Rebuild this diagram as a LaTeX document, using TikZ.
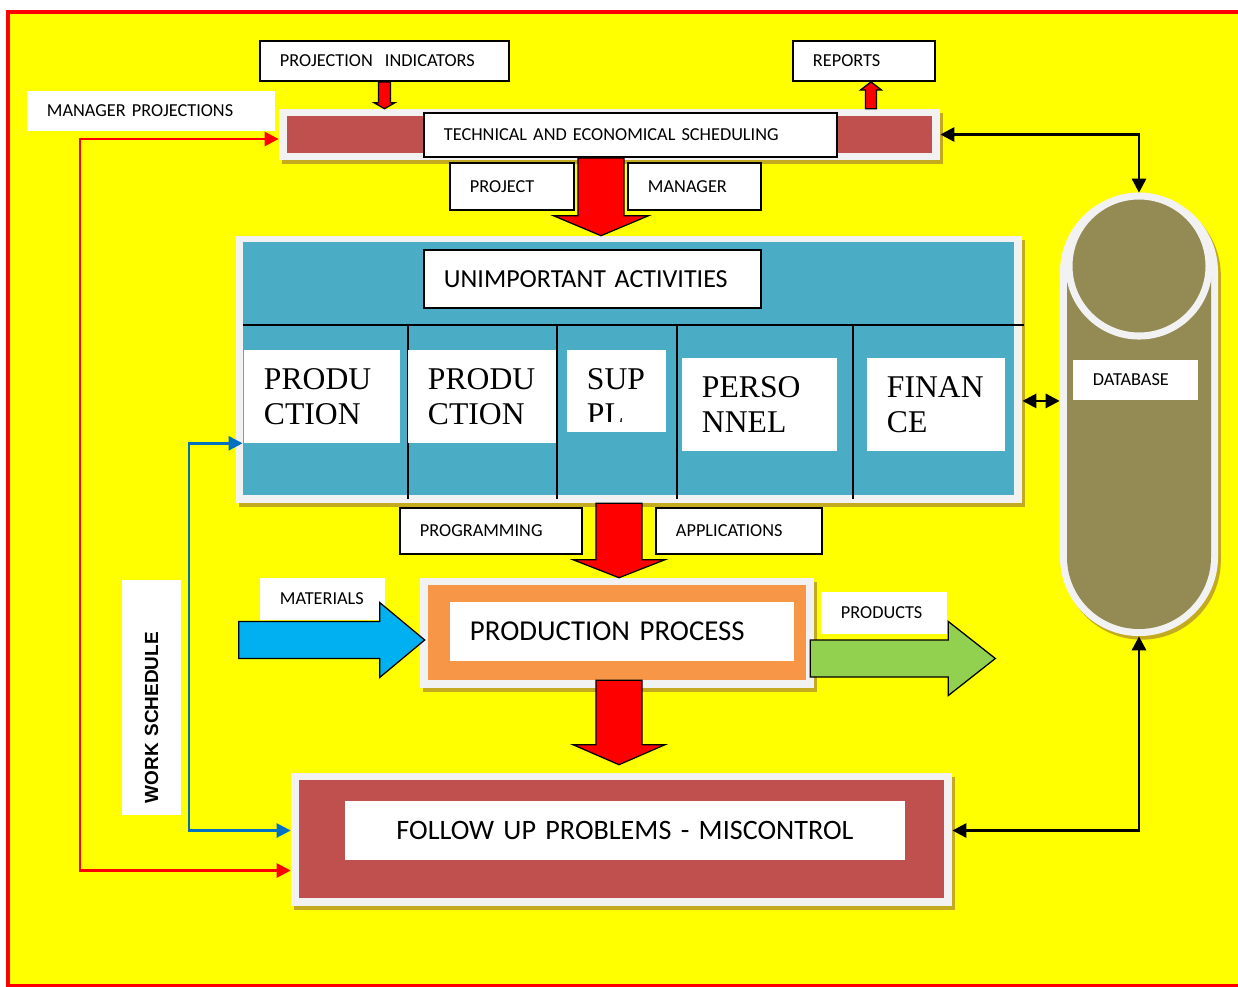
\documentclass[tikz,border=0pt]{standalone}
\usepackage{fontspec}
\setmainfont{Liberation Serif}
\newfontfamily\calibri{Carlito}
\newfontfamily\arialfont{Liberation Sans}
\usetikzlibrary{positioning, arrows.meta, calc, shadows}
\definecolor{pageyellow}{RGB}{255,255,0}
\definecolor{framered}{RGB}{255,0,0}
\definecolor{framegray}{RGB}{242,242,242}
\definecolor{brickred}{RGB}{192,80,77}
\definecolor{panelblue}{RGB}{75,172,198}
\definecolor{procorange}{RGB}{247,150,70}
\definecolor{dbolive}{RGB}{148,138,84}
\definecolor{matblue}{RGB}{0,176,240}
\definecolor{prodgreen}{RGB}{146,208,80}
\definecolor{lineblue}{RGB}{0,112,192}
\definecolor{shadowolive}{RGB}{196,170,30}

% block arrow: [style]{from}{tip}{half shaft}{half head}{head length}
\newcommand{\fatarrow}[6][]{%
  \coordinate (fa-h) at ($(#3)!#6!(#2)$);
  \filldraw[line width=0.9pt, #1] ($(#2)!#4!90:(#3)$) -- ($(fa-h)!#4!90:(#3)$) -- ($(fa-h)!#5!90:(#3)$) -- (#3)
    -- ($(fa-h)!#5!-90:(#3)$) -- ($(fa-h)!#4!-90:(#3)$) -- ($(#2)!#4!-90:(#3)$) -- cycle;}

\begin{document}
\begin{tikzpicture}[
        x=0.025cm, y=-0.025cm,
        textbox/.style={draw=black, line width=1.3pt, fill=white, align=left, inner xsep=0.5cm, inner ysep=0pt, font=\calibri\fontsize{13}{15}\selectfont},
        notebox/.style={textbox, draw=none},
        bigcell/.style={fill=white, align=left, inner xsep=0.5cm, inner ysep=0pt, minimum height=2.325cm, font=\fontsize{22.5}{25}\selectfont},
        framebox/.style={fill=framegray, inner sep=0pt, drop shadow={shadow xshift=0.07cm, shadow yshift=-0.09cm, fill=shadowolive, opacity=1}},
        loopline/.style={line width=2pt, {Triangle[length=10pt,width=10pt]}-{Triangle[length=10pt,width=10pt]}}
    ]
        \useasboundingbox (0,0) rectangle (1238,987);
        \fill[white] (0,0) rectangle (1238,987);

        % Outer frame
        \draw[framered, line width=2.4pt, fill=pageyellow] (8,12) rectangle (1260,986);

        % Scheduling bar
        \node[notebox, text width=5.2cm, minimum height=1cm] (mgrproj) at (151,111) {MANAGER PROJECTIONS};
        \node[textbox, text width=5.225cm, minimum height=1cm] (projind) at (384.5,61) {PROJECTION~ INDICATORS};
        \node[textbox, text width=2.55cm, minimum height=1cm] (reports) at (864,61) {REPORTS};
        \node[framebox, minimum width=16.525cm, minimum height=1.275cm] (techbar) at (609.5,134.5) {};
        \node[fill=brickred, minimum width=16.1cm, minimum height=0.9cm, inner sep=0pt] (techbarin) at (techbar) {};
        \node[textbox, text width=9.325cm, minimum height=1.1cm] (techsched) at (630.5,135) {TECHNICAL AND ECONOMICAL SCHEDULING};
        \node[textbox, text width=2.1cm, minimum height=1.175cm] (project) at (512,186.5) {PROJECT};
        \node[textbox, text width=2.325cm, minimum height=1.175cm] (manager) at (694.5,186.5) {MANAGER};

        % Activities panel
        \node[framebox, minimum width=19.65cm, minimum height=6.675cm] (panel) at (629,369.5) {};
        \node[fill=panelblue, minimum width=19.275cm, minimum height=6.325cm, inner sep=0pt] (panelin) at (628.5,368.5) {};
        \draw[line width=1.2pt] (panelin.west |- 0,325) -- (1024,325);
        \foreach \x in {408,557,677,853}
            \draw[line width=1.2pt] (\x,325) -- (\x,499);
        \node[textbox, text width=7.425cm, minimum height=1.45cm, font=\calibri\fontsize{18.5}{22}\selectfont] (unimp) at (592.5,279) {UNIMPORTANT ACTIVITIES};
        \node[bigcell, text width=2.9cm] (prod1) at (322,396.5) {PRODU\\CTION};
        \node[bigcell, text width=2.7cm] (prod2) at (482,396.5) {PRODU\\CTION};
        \node[fill=white, minimum width=2.475cm, minimum height=2.05cm, inner sep=0pt] (supply) at (616.5,391) {};
        \begin{scope}
            \clip (supply.north west) rectangle ($(supply.south east)+(0,-11)$);
            \node[bigcell, text width=1.475cm] (supplytext) at (616.5,396.5) {SUP\\PL};
        \end{scope}
        \node[bigcell, text width=2.875cm] (personnel) at (759.5,404.5) {PERSO\\NNEL};
        \node[bigcell, text width=2.45cm] (finance) at (936,404.5) {FINAN\\CE};

        % Database
        \node[framebox, rounded corners=1.975cm, minimum width=3.95cm, minimum height=11.075cm] (db) at (1139,414.5) {};
        \fill[dbolive, rounded corners=1.8cm] (1067,200) rectangle (1211,629);
        \draw[framegray, line width=5pt, fill=dbolive] (1139,266) circle (1.75cm);
        \node[notebox, text width=2.125cm, minimum height=1cm] (dblabel) at (1135.5,380) {DATABASE};

        % Production process
        \node[textbox, text width=3.55cm, minimum height=1.15cm] (programming) at (491,531) {PROGRAMMING};
        \node[textbox, text width=3.15cm, minimum height=1.15cm] (applications) at (739,531) {APPLICATIONS};
        \node[framebox, minimum width=9.85cm, minimum height=2.75cm] (procproc) at (617,633) {};
        \node[fill=procorange, minimum width=9.45cm, minimum height=2.375cm, inner sep=0pt] (procin) at (617,632.5) {};
        \node[notebox, text width=7.6cm, minimum height=1.475cm, font=\calibri\fontsize{20.5}{24}\selectfont] (proctext) at (622,631.5) {PRODUCTION PROCESS};
        \node[notebox, text width=2.125cm, minimum height=1.05cm] (materials) at (322.5,599) {MATERIALS};
        \node[notebox, text width=2.15cm, minimum height=1.05cm] (products) at (884,613) {PRODUCTS};

        % Follow up
        \node[framebox, minimum width=16.525cm, minimum height=3.325cm] (followup) at (621.5,839.5) {};
        \node[fill=brickred, minimum width=16.125cm, minimum height=2.95cm, inner sep=0pt] (followin) at (621.5,839) {};
        \node[notebox, text width=13cm, align=center, minimum height=1.475cm, font=\calibri\fontsize{20}{24}\selectfont] (fuptext) at (625,830.5) {FOLLOW UP PROBLEMS - MISCONTROL};

        % Work schedule
        \node[notebox, rotate=90, text width=5.275cm, inner xsep=0.3cm, minimum height=1.475cm, font=\arialfont\bfseries\fontsize{13.5}{16}\selectfont] (worksched) at (151.5,697.5) {WORK SCHEDULE};

        % Block arrows
        \coordinate (pi-tip) at (projind.south |- techbar.north);
        \fatarrow[fill=red]{projind.south}{pi-tip}{0.15cm}{0.26cm}{0.15cm}
        \coordinate (rep-tip) at ($(reports.south)+(7,0)$);
        \coordinate (rep-start) at (rep-tip |- techbar.north);
        \fatarrow[fill=red]{rep-start}{rep-tip}{0.14cm}{0.26cm}{0.2cm}
        \coordinate (down1) at ($(project.east)!0.5!(manager.west)$);
        \coordinate (down1-s) at (down1 |- techsched.south);
        \coordinate (down1-t) at (down1 |- panel.north);
        \fatarrow[fill=red]{down1-s}{down1-t}{0.575cm}{1.19cm}{0.5cm}
        \coordinate (down2) at ($(programming.east)!0.5!(applications.west)$);
        \coordinate (down2-s) at (down2 |- panel.south);
        \coordinate (down2-t) at (down2 |- procproc.north);
        \fatarrow[fill=red]{down2-s}{down2-t}{0.575cm}{1.15cm}{0.45cm}
        \coordinate (down3-s) at (down2 |- procin.south);
        \coordinate (down3-t) at ($(down2 |- followup.north)+(0,-8)$);
        \fatarrow[fill=red]{down3-s}{down3-t}{0.575cm}{1.15cm}{0.5cm}
        \coordinate (mat-t) at ($(procproc.west)+(5,7)$);
        \coordinate (mat-s) at ($(mat-t)+(-186,0)$);
        \fatarrow[fill=matblue]{mat-s}{mat-t}{0.4625cm}{0.9375cm}{1.125cm}
        \coordinate (prd-s) at ($(procproc.east)+(-4,25.5)$);
        \coordinate (prd-t) at ($(prd-s)+(185,0)$);
        \fatarrow[fill=prodgreen]{prd-s}{prd-t}{0.4625cm}{0.925cm}{1.175cm}

        % Feedback lines
        \coordinate (redturn) at (80,500);
        \draw[loopline, framered] ($(techbar.west)+(0,4.5)$) -| (redturn) |- ($(followup.west)+(0,31)$);
        \draw[loopline, lineblue, line width=1.8pt] (panelin.west |- prod1.south) -| ($(worksched.south)+(7,0)$) |- (followup.west |- fuptext);
        \draw[loopline] (techbar.east) -| (db.north);
        \draw[loopline] (db.south) |- (followup.east |- fuptext);
        \draw[loopline] (panel.east |- dblabel.south) -- (db.west |- dblabel.south);
    \end{tikzpicture}
\end{document}
